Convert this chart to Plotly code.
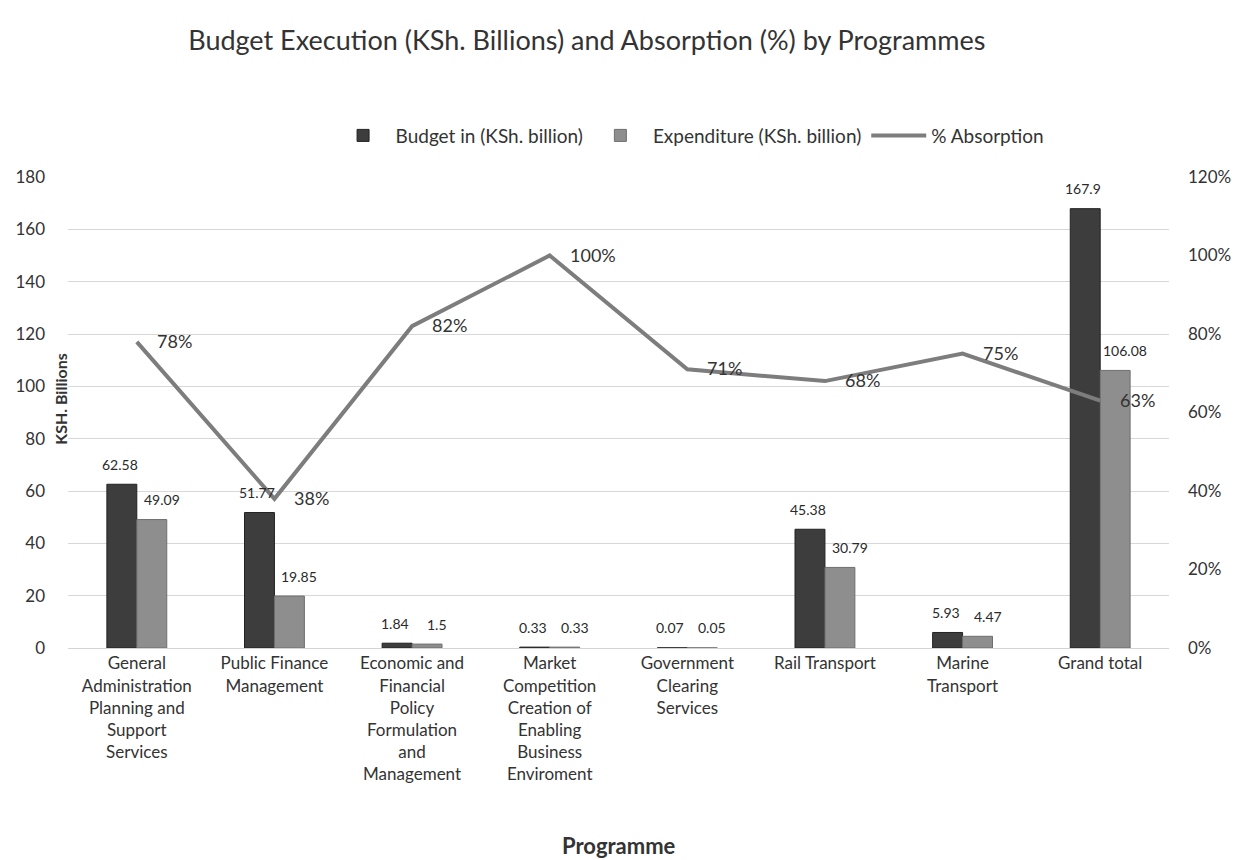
import plotly.graph_objects as go

# Programme names (x categories)
programmes = [
    "General<br>Administration<br>Planning and<br>Support<br>Services",
    "Public Finance<br>Management",
    "Economic and<br>Financial<br>Policy<br>Formulation<br>and<br>Management",
    "Market<br>Competition<br>Creation of<br>Enabling<br>Business<br>Enviroment",
    "Government<br>Clearing<br>Services",
    "Rail Transport",
    "Marine<br>Transport",
    "Grand total",
]

budget = [62.58, 51.77, 1.84, 0.33, 0.07, 45.38, 5.93, 167.9]
expenditure = [49.09, 19.85, 1.5, 0.33, 0.05, 30.79, 4.47, 106.08]
absorption = [78, 38, 82, 100, 71, 68, 75, 63]

left_ticks = [0, 20, 40, 60, 80, 100, 120, 140, 160, 180]
right_ticks = [0, 20, 40, 60, 80, 100, 120]

FONT = "Lato, 'Open Sans', sans-serif"
TEXT = "#333333"
BUDGET_COLOR = "#3d3d3d"
EXP_COLOR = "#8e8e8e"
LINE_COLOR = "#7d7d7d"

fig = go.Figure()

fig.add_trace(go.Bar(
    x=programmes, y=budget, name="Budget in (KSh. billion)",
    marker=dict(color=BUDGET_COLOR, line=dict(color="#222222", width=1)),
    yaxis="y",
))
fig.add_trace(go.Bar(
    x=programmes, y=expenditure, name="Expenditure (KSh. billion)",
    marker=dict(color=EXP_COLOR, line=dict(color="#6e6e6e", width=1)),
    yaxis="y",
))
fig.add_trace(go.Scatter(
    x=programmes, y=absorption, name="% Absorption",
    mode="lines",
    line=dict(color=LINE_COLOR, width=4),
    yaxis="y2",
    cliponaxis=False,
))

annotations = []
# value labels above bars
for i, (b, e) in enumerate(zip(budget, expenditure)):
    annotations.append(dict(
        x=programmes[i], y=b, xref="x", yref="y", text=f"{b:g}",
        showarrow=False, xshift=-17, yshift=20,
        font=dict(family=FONT, size=14, color="#2a2a2a"),
    ))
    annotations.append(dict(
        x=programmes[i], y=e, xref="x", yref="y", text=f"{e:g}",
        showarrow=False, xshift=25, yshift=20,
        font=dict(family=FONT, size=14, color="#2a2a2a"),
    ))
# absorption labels to the right of each point
for i, a in enumerate(absorption):
    annotations.append(dict(
        x=programmes[i], y=a, xref="x", yref="y2", text=f"{a}%",
        showarrow=False, xanchor="left", xshift=18, yshift=1,
        font=dict(family=FONT, size=18, color=TEXT),
    ))
# vertical axis title, sitting close to the tick labels
annotations.append(dict(
    x=0, y=0.527, xref="paper", yref="paper", text="<b>KSH. Billions</b>",
    textangle=-90, showarrow=False, xanchor="center", xshift=-7,
    font=dict(family=FONT, size=16, color=TEXT),
))
# horizontal axis title, below the wrapped category labels
annotations.append(dict(
    x=0.5, y=-0.42, xref="paper", yref="paper", yanchor="middle",
    text="<b>Programme</b>", showarrow=False,
    font=dict(family=FONT, size=22, color=TEXT),
))

fig.update_layout(
    width=1246, height=860,
    margin=dict(l=68, r=77, t=177, b=212, autoexpand=False),
    paper_bgcolor="white",
    plot_bgcolor="white",
    barmode="group",
    bargap=0.565,
    bargroupgap=0.0,
    font=dict(family=FONT, color=TEXT),
    title=dict(
        text="Budget Execution (KSh. Billions) and Absorption (%) by Programmes",
        x=0.471, xanchor="center", y=0.953, yanchor="middle",
        font=dict(family=FONT, size=27, color=TEXT),
    ),
    legend=dict(
        orientation="h", x=0.565, xanchor="center", y=1.088, yanchor="middle",
        font=dict(family=FONT, size=19, color=TEXT),
        itemwidth=55,
    ),
    xaxis=dict(
        showgrid=False, automargin=False,
        showline=True, linecolor="#d4d4d4",
        tickfont=dict(family=FONT, size=17, color=TEXT),
        ticks="",
    ),
    yaxis=dict(
        range=[0, 180], tickvals=left_ticks, automargin=False,
        showgrid=True, gridcolor="#d8d8d8", gridwidth=1,
        zeroline=False,
        tickfont=dict(family=FONT, size=17, color=TEXT),
        ticklabelstandoff=22,
    ),
    yaxis2=dict(
        range=[0, 120], tickvals=right_ticks, ticktext=[f"{v}%" for v in right_ticks],
        overlaying="y", side="right", automargin=False,
        showgrid=False, zeroline=False,
        tickfont=dict(family=FONT, size=17, color=TEXT),
        ticklabelstandoff=18,
    ),
    annotations=annotations,
)

fig.write_html("out.html")
